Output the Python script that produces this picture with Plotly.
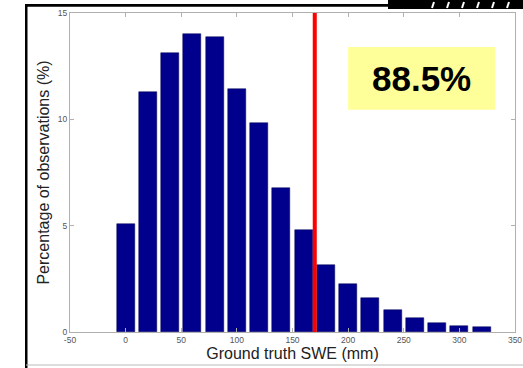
import plotly.graph_objects as go

swe_bins = [0, 20, 40, 60, 80, 100, 120, 140, 160, 180, 200, 220, 240, 260, 280, 300, 320]
pct_obs = [5.1, 11.3, 13.1, 14.0, 13.85, 11.45, 9.85, 6.75, 4.8, 3.15, 2.25, 1.6, 1.05, 0.65, 0.42, 0.28, 0.23]
threshold = 170
label_text = "88.5%"
x_ticks = [-50, 0, 50, 100, 150, 200, 250, 300, 350]
y_ticks = [0, 5, 10, 15]

fig = go.Figure()
fig.add_trace(go.Bar(
    x=swe_bins, y=pct_obs, width=16,
    marker=dict(color="#00008C", line=dict(color="#000050", width=0.5)),
    showlegend=False, hoverinfo="skip",
))

# red threshold line
fig.add_shape(type="line", xref="x", yref="y", x0=threshold, x1=threshold, y0=0, y1=15,
              line=dict(color="#ff0000", width=4), layer="above")

# yellow box with percentage
fig.add_shape(type="rect", xref="x", yref="y", x0=200, x1=332, y0=10.45, y1=13.4,
              fillcolor="#ffff99", line=dict(width=0), layer="above")
fig.add_annotation(x=266, y=11.93, xref="x", yref="y", text=f"<b>{label_text}</b>",
                   showarrow=False, font=dict(family="Liberation Sans, Arial", size=35, color="#000000"))

# slide frame decorations (paper coords)
def px(xp):
    return (xp - 70) / 445.0
def py(yp):
    return (332 - yp) / 319.0

frame_path = (
    f"M {px(25)},{py(368)} L {px(25)},{py(4)} L {px(388)},{py(4)} L {px(388)},{py(0)} "
    f"L {px(523)},{py(0)} L {px(523)},{py(9)} L {px(388)},{py(9)} L {px(388)},{py(6.8)} "
    f"L {px(27.5)},{py(6.8)} L {px(27.5)},{py(368)} Z"
)
fig.add_shape(type="path", xref="paper", yref="paper", path=frame_path,
              fillcolor="#000000", line=dict(width=0), layer="above")
for xs in [432, 447, 462, 477, 492, 507]:
    fig.add_shape(type="line", xref="paper", yref="paper", x0=px(xs), x1=px(xs + 2), y0=py(8), y1=py(2),
                  line=dict(color="#ffffff", width=2))
fig.add_shape(type="line", xref="paper", yref="paper", x0=px(26), x1=px(523), y0=py(365), y1=py(365),
              line=dict(color="#bbbbbb", width=1))

axis_common = dict(
    showgrid=False, zeroline=False, showline=True, linecolor="#b0b0b0", linewidth=1,
    mirror="ticks", ticks="inside", ticklen=4, tickcolor="#b0b0b0", automargin=False,
    tickfont=dict(family="Liberation Sans, Arial", size=8.5, color="#555555"),
)

fig.update_layout(
    width=523, height=368,
    margin=dict(l=70, r=8, t=13, b=36, autoexpand=False),
    paper_bgcolor="#ffffff", plot_bgcolor="#ffffff",
    bargap=0,
    xaxis=dict(range=[-50, 350], tickvals=x_ticks, ticktext=[str(v) for v in x_ticks],
               title=dict(text="Ground truth SWE (mm)", standoff=0,
                          font=dict(family="Liberation Sans, Arial", size=16, color="#222222")),
               **axis_common),
    yaxis=dict(range=[0, 15], tickvals=y_ticks, ticktext=[str(v) for v in y_ticks],
               title=dict(text="Percentage of observations (%)", standoff=4,
                          font=dict(family="Liberation Sans, Arial", size=16, color="#222222")),
               **axis_common),
)

fig.write_html("out.html", config={"displayModeBar": False},
               post_script="document.body.style.margin='0';document.body.style.overflow='hidden';")
